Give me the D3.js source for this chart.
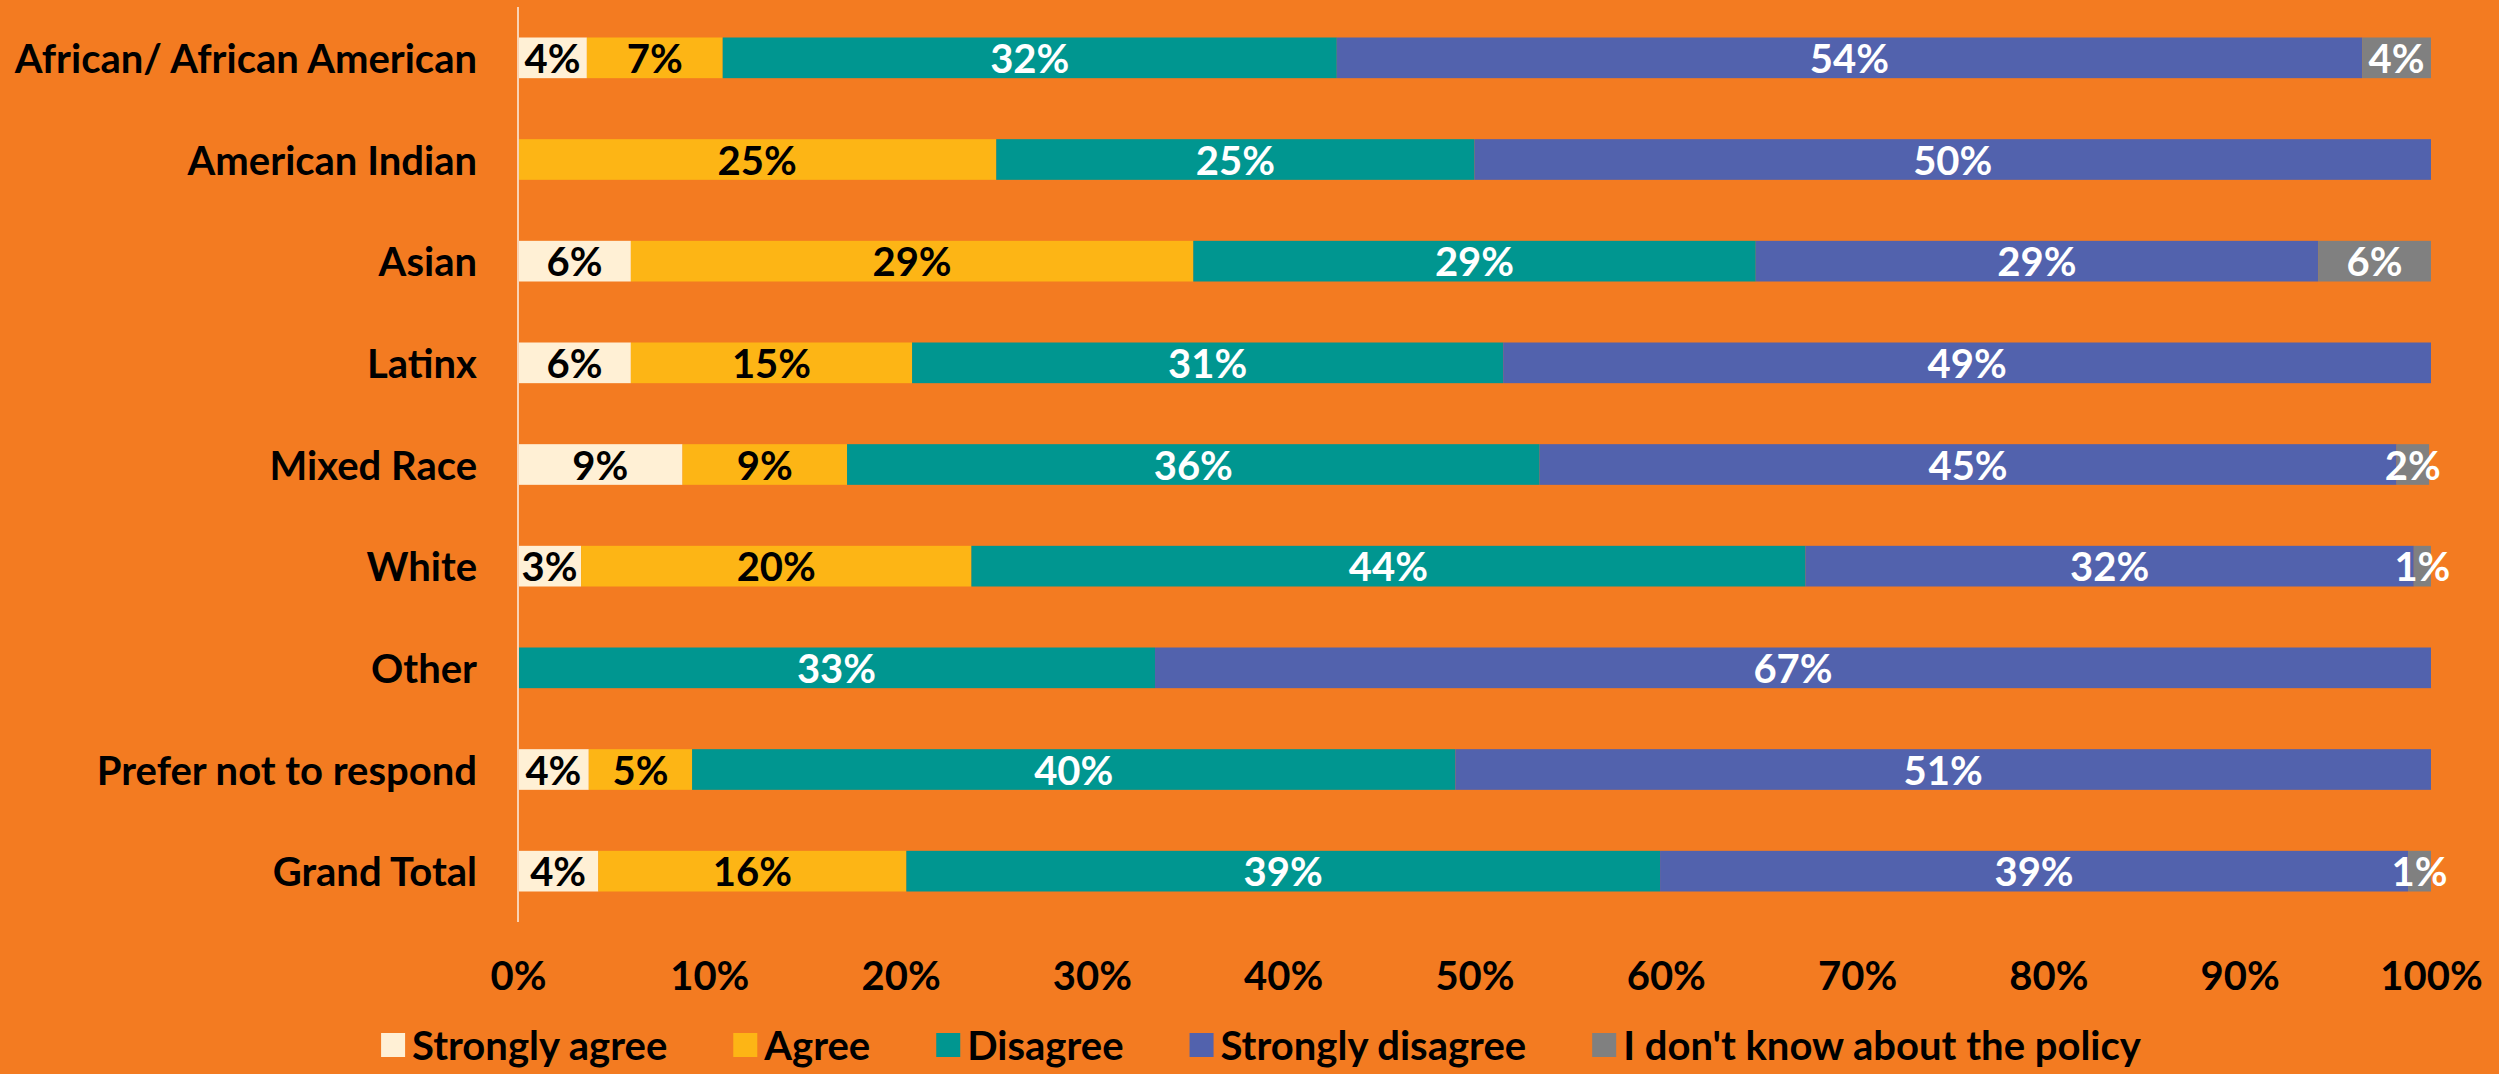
<!DOCTYPE html>
<html>
<head>
<meta charset="utf-8">
<script src="https://cdn.jsdelivr.net/npm/d3@7"></script>
<style>
  body { margin: 0; background: #F37B21; }
  svg text { font-family: Lato, "Noto Sans", sans-serif; font-weight: bold; }
</style>
</head>
<body>
<script>
// categories (top to bottom)
var groups = ["African/ African American", "American Indian", "Asian", "Latinx", "Mixed Race",
  "White", "Other", "Prefer not to respond", "Grand Total"];

var seriesNames = ["Strongly agree", "Agree", "Disagree", "Strongly disagree", "I don't know about the policy"];

// percent shares, one array per response
var stronglyAgree    = [3.6, 0, 5.9, 5.9, 8.6, 3.3, 0, 3.7, 4.2];
var agree            = [7.1, 25, 29.4, 14.7, 8.6, 20.4, 0, 5.4, 16.1];
var disagree         = [32.1, 25, 29.4, 30.9, 36.2, 43.6, 33.3, 39.9, 39.4];
var stronglyDisagree = [53.6, 50, 29.4, 48.5, 44.8, 31.8, 66.7, 51.0, 39.1];
var dontKnow         = [3.6, 0, 5.9, 0, 1.7, 0.9, 0, 0, 1.2];

var xTicks = [0, 0.1, 0.2, 0.3, 0.4, 0.5, 0.6, 0.7, 0.8, 0.9, 1];

var colors = ["#FFF0D5", "#FDB515", "#009690", "#5262AD", "#808080"];
var labelColors = ["#000", "#000", "#fff", "#fff", "#fff"];

var svgWidth = 2499;
var svgHeight = 1074;
var fontSize = 40;

var svg = d3.select("body")
  .append("svg")
  .attr("width", svgWidth)
  .attr("height", svgHeight);

svg.append("rect")
  .attr("width", svgWidth)
  .attr("height", svgHeight)
  .attr("fill", "#F37B21");

// build rows for the stack
var table = groups.map(function(g, i) {
  return {
    group: g,
    s0: stronglyAgree[i] / 100,
    s1: agree[i] / 100,
    s2: disagree[i] / 100,
    s3: stronglyDisagree[i] / 100,
    s4: dontKnow[i] / 100
  };
});

var stack = d3.stack().keys(["s0", "s1", "s2", "s3", "s4"]);
var layers = stack(table);

var xScale = d3.scaleLinear()
  .domain([0, 1])
  .range([518, 2431]);

var yScale = d3.scaleBand()
  .domain(groups)
  .range([7, 922])
  .paddingInner(0.6)
  .paddingOuter(0.3);

// bars
var layerGroups = svg.selectAll(".layer")
  .data(layers)
  .enter()
  .append("g")
  .attr("class", "layer")
  .attr("fill", (d, i) => colors[i]);

layerGroups.selectAll("rect")
  .data(d => d)
  .enter()
  .append("rect")
  .attr("x", d => xScale(d[0]))
  .attr("y", d => yScale(d.data.group))
  .attr("width", d => xScale(d[1]) - xScale(d[0]))
  .attr("height", yScale.bandwidth());

// value labels
layers.forEach(function(layer, i) {
  svg.append("g")
    .selectAll("text")
    .data(layer.filter(d => d[1] - d[0] > 0))
    .enter()
    .append("text")
    .attr("x", d => xScale((d[0] + d[1]) / 2))
    .attr("y", d => yScale(d.data.group) + yScale.bandwidth() / 2)
    .attr("text-anchor", "middle")
    .attr("dominant-baseline", "central")
    .attr("font-size", fontSize)
    .attr("fill", labelColors[i])
    .text(d => Math.round((d[1] - d[0]) * 100) + "%");
});

// vertical axis line
svg.append("line")
  .attr("x1", xScale(0))
  .attr("x2", xScale(0))
  .attr("y1", 7)
  .attr("y2", 922)
  .attr("stroke", "#F9D3B4")
  .attr("stroke-width", 2);

// category labels
var leftAxis = d3.axisLeft(yScale).tickSize(0).tickPadding(0);
var yAxis = svg.append("g")
  .attr("transform", "translate(477, 0)")
  .call(leftAxis);
yAxis.select(".domain").remove();
yAxis.selectAll("text")
  .attr("font-size", fontSize)
  .attr("font-family", null)
  .attr("fill", "#000")
  .attr("dy", null)
  .attr("dominant-baseline", "central");

// x tick labels
var bottomAxis = d3.axisBottom(xScale)
  .tickValues(xTicks)
  .tickFormat(d3.format(".0%"))
  .tickSize(0)
  .tickPadding(0);
var xAxis = svg.append("g")
  .attr("transform", "translate(0, 975)")
  .call(bottomAxis);
xAxis.select(".domain").remove();
xAxis.selectAll("text")
  .attr("font-size", fontSize)
  .attr("font-family", null)
  .attr("fill", "#000")
  .attr("dy", null)
  .attr("y", 0)
  .attr("dominant-baseline", "central");

// legend
var legend = svg.append("g");
var legendX = 0;
seriesNames.forEach(function(name, i) {
  var item = legend.append("g").attr("transform", `translate(${legendX}, 0)`);
  item.append("rect")
    .attr("x", 0)
    .attr("y", -12)
    .attr("width", 24)
    .attr("height", 24)
    .attr("fill", colors[i]);
  var t = item.append("text")
    .attr("x", 31)
    .attr("y", 0)
    .attr("dominant-baseline", "central")
    .attr("font-size", fontSize)
    .attr("fill", "#000")
    .text(name);
  legendX += 31 + t.node().getComputedTextLength() + 66;
});
var legendW = legendX - 66;
legend.attr("transform", `translate(${1261 - legendW / 2}, 1045)`);
</script>
</body>
</html>
